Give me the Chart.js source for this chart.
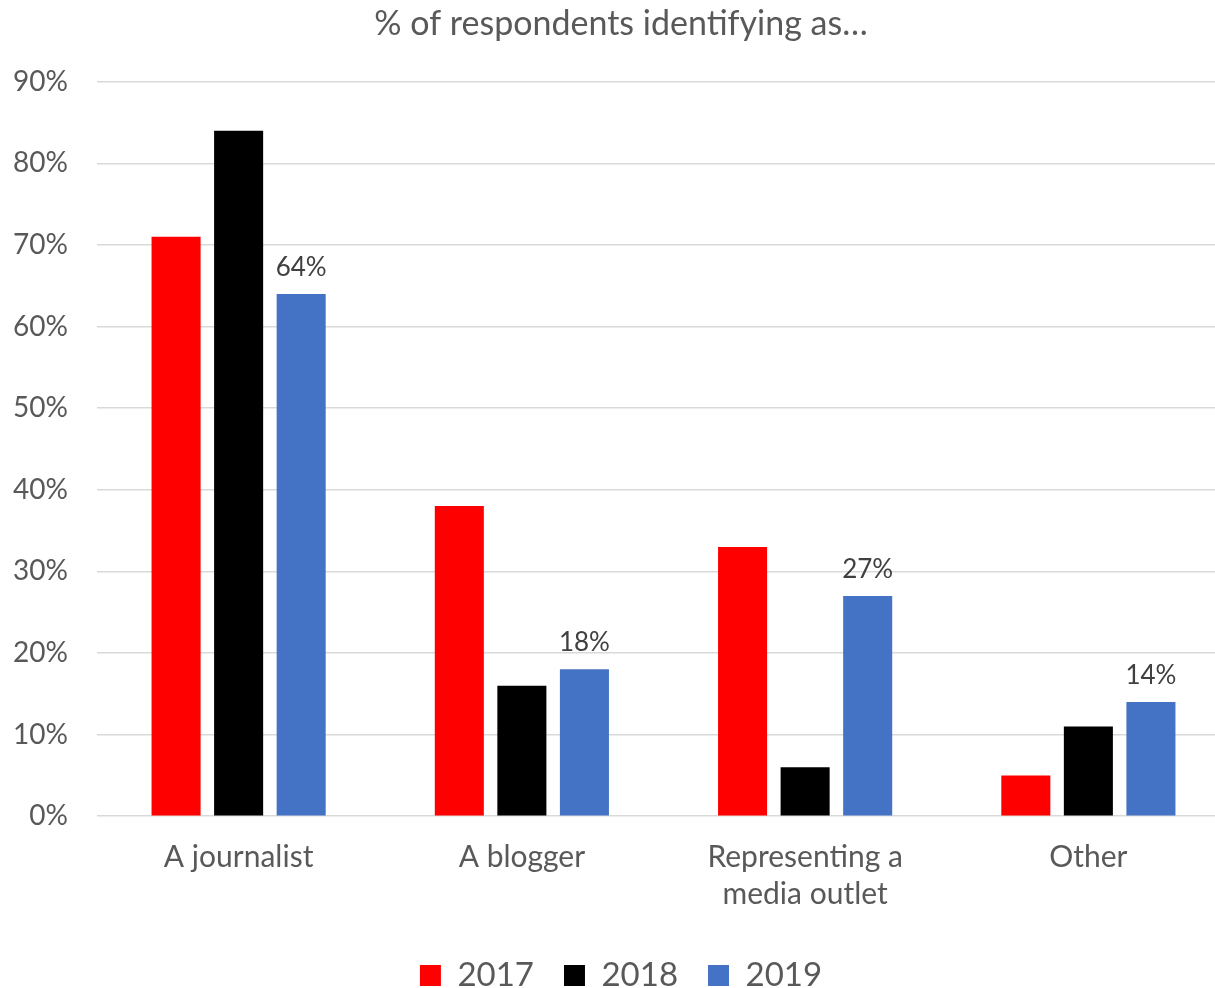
<!DOCTYPE html>
<html>
<head>
<meta charset="utf-8">
<script src="https://cdn.jsdelivr.net/npm/chart.js@4"></script>
<style>
  html, body { margin: 0; padding: 0; background: #fff; overflow: hidden; }
  #wrap { width: 1256px; height: 988px; }
</style>
</head>
<body>
<div id="wrap"><canvas id="respondentes"></canvas></div>
<script>
const categorias = ['A journalist', 'A blogger', ['Representing a', 'media outlet'], 'Other'];
const valores_2017 = [71, 38, 33, 5];
const valores_2018 = [84, 16, 6, 11];
const valores_2019 = [64, 18, 27, 14];

const fuente = "Lato, 'Open Sans', sans-serif";

// etiquetas solo para la serie 2019
const etiquetas2019 = {
  id: 'etiquetas2019',
  afterDatasetsDraw(chart) {
    const ctx = chart.ctx;
    const meta = chart.getDatasetMeta(2);
    ctx.save();
    ctx.font = '26px ' + fuente;
    ctx.fillStyle = '#404040';
    ctx.textAlign = 'center';
    ctx.textBaseline = 'alphabetic';
    meta.data.forEach((bar, i) => {
      ctx.fillText(valores_2019[i] + '%', bar.x, bar.y - 18);
    });
    ctx.restore();
  }
};

const respondentes = document.getElementById('respondentes');

new Chart(respondentes, {
  type: 'bar',
  data: {
    labels: categorias,
    datasets: [
      { label: '2017', data: valores_2017, backgroundColor: '#FF0000' },
      { label: '2018', data: valores_2018, backgroundColor: '#000000' },
      { label: '2019', data: valores_2019, backgroundColor: '#4472C4' }
    ]
  },
  options: {
    responsive: true,
    maintainAspectRatio: false,
    animation: false,
    layout: { padding: { left: 12, right: 26, top: 4, bottom: -14 } },
    datasets: {
      bar: { categoryPercentage: 0.6625, barPercentage: 0.784 }
    },
    scales: {
      x: {
        grid: { display: false },
        border: { display: false },
        afterFit(scale) { scale.height += 1; },
        ticks: {
          color: '#595959',
          font: { family: fuente, size: 30, lineHeight: 1.23 },
          padding: 15,
          maxRotation: 0
        }
      },
      y: {
        min: 0,
        max: 90,
        border: { display: false },
        grid: { color: '#D9D9D9', lineWidth: 1.5, drawTicks: false },
        afterFit(scale) { scale.width = 85; },
        ticks: {
          stepSize: 10,
          color: '#595959',
          font: { family: fuente, size: 28 },
          padding: 29,
          callback: v => v + '%'
        }
      }
    },
    plugins: {
      title: {
        display: true,
        text: '% of respondents identifying as…',
        color: '#595959',
        font: { family: fuente, size: 34, weight: 'normal' },
        padding: { top: 0, bottom: 37 }
      },
      legend: {
        position: 'bottom',
        labels: {
          color: '#595959',
          font: { family: fuente, size: 33 },
          boxWidth: 21,
          boxHeight: 21,
          padding: 30
        }
      },
      tooltip: { enabled: false }
    }
  },
  plugins: [etiquetas2019]
});
</script>
</body>
</html>
